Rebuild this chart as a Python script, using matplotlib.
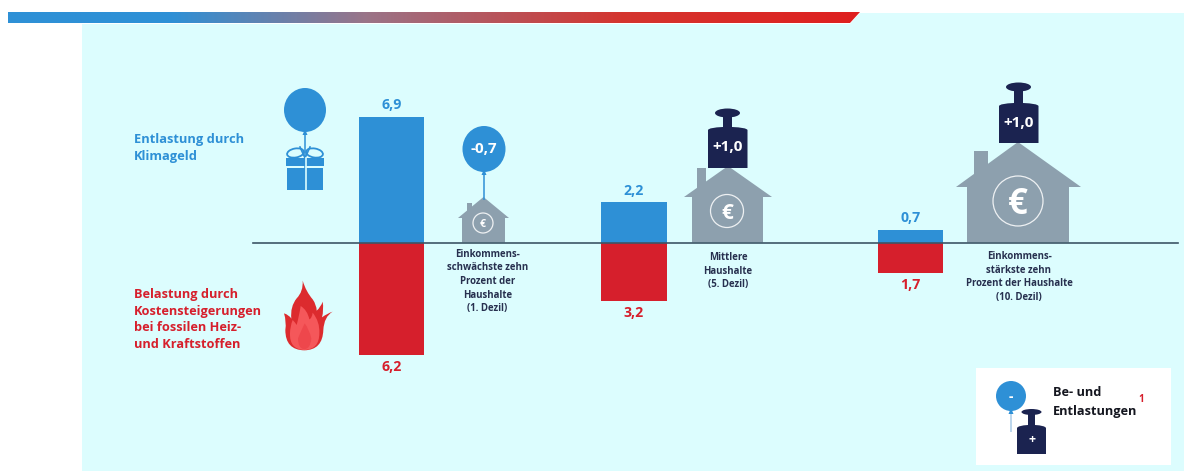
import matplotlib
matplotlib.use("Agg")
import matplotlib.pyplot as plt
import numpy as np
from matplotlib.colors import LinearSegmentedColormap
from matplotlib.patches import Circle, Ellipse, PathPatch, Polygon, Rectangle
from matplotlib.path import Path

# Werte in Euro pro Haushalt und Monat, nach Dezil
groups = ["1. Dezil", "5. Dezil", "10. Dezil"]
relief = [6.9, 2.2, 0.7]
burden = [6.2, 3.2, 1.7]
net_labels = ["-0,7", "+1,0", "+1,0"]
group_labels = [
    "Einkommens-\nschwächste zehn\nProzent der\nHaushalte\n(1. Dezil)",
    "Mittlere\nHaushalte\n(5. Dezil)",
    "Einkommens-\nstärkste zehn\nProzent der Haushalte\n(10. Dezil)",
]

BLUE = "#2E90D6"
RED = "#D61F2C"
NAVY = "#1B2350"
GREY = "#8DA0AE"
TEXT = "#27304F"
PANEL = "#DCFDFE"
FONT = "Open Sans"

W, H = 1184, 471
BASE = 242.5
UNIT = 18.2

plt.rcParams["font.family"] = FONT
fig = plt.figure(figsize=(W / 100, H / 100), dpi=100, facecolor="white")

# Zeichenfläche in Pixelkoordinaten für Hintergrund, Symbole und Beschriftung
px = fig.add_axes([0, 0, 1, 1])
px.set_xlim(0, W)
px.set_ylim(H, 0)
px.axis("off")

px.add_patch(Polygon([(82, 24), (850, 24), (860, 13), (W, 13), (W, H), (82, H)],
                     closed=True, fc=PANEL, ec="none", zorder=0))

# Farbverlauf im Kopfband mit schräg abgeschnittenem Ende
band_cmap = LinearSegmentedColormap.from_list(
    "band", [(0, BLUE), (0.19, BLUE), (0.42, "#9A7488"), (0.72, "#D4352F"), (1, "#DF1F1F")])
band = px.imshow(np.linspace(0, 1, 512)[None, :], cmap=band_cmap, aspect="auto",
                 extent=(8, 860, 23.5, 12), zorder=1)
band_clip = Polygon([(8, 12), (860, 12), (849.5, 23.5), (8, 23.5)], closed=True,
                    transform=px.transData, fc="none", ec="none")
px.add_patch(band_clip)
band.set_clip_path(band_clip)
px.set_xlim(0, W)
px.set_ylim(H, 0)


def balloon(cx, cy, rx, ry, string_end, color=BLUE, string_color=None):
    px.plot([cx, cx], [cy + ry, string_end], color=string_color or color, lw=1.1,
            solid_capstyle="butt", zorder=3)
    px.add_patch(Polygon([(cx - 2.5, cy + ry + 3), (cx + 2.5, cy + ry + 3), (cx, cy + ry - 3)],
                         closed=True, fc=color, ec="none", zorder=3))
    px.add_patch(Ellipse((cx, cy), 2 * rx, 2 * ry, fc=color, ec="none", zorder=4))


def weight(cx, left, right, top, bottom, neck_top, neck_half, cap_y, cap_rx, cap_ry):
    verts = [(left, bottom), (left, top + 3), (left + 1, top + 0.5), (cx - neck_half, top),
             (cx + neck_half, top), (right - 1, top + 0.5), (right, top + 3),
             (right, bottom), (left, bottom)]
    codes = [Path.MOVETO, Path.LINETO, Path.CURVE3, Path.CURVE3, Path.LINETO,
             Path.CURVE3, Path.CURVE3, Path.LINETO, Path.CLOSEPOLY]
    px.add_patch(PathPatch(Path(verts, codes), fc=NAVY, ec="none", zorder=4))
    px.add_patch(Rectangle((cx - neck_half, neck_top), 2 * neck_half, top - neck_top + 1,
                           fc=NAVY, ec="none", zorder=4))
    px.add_patch(Ellipse((cx, cap_y), 2 * cap_rx, 2 * cap_ry, fc=NAVY, ec="none", zorder=4))


def house(apex, eave_y, eave_x, wall_x, chimney_x, chimney_top, euro, euro_size):
    outline = [apex, (eave_x[1], eave_y), (wall_x[1], eave_y), (wall_x[1], BASE),
               (wall_x[0], BASE), (wall_x[0], eave_y), (eave_x[0], eave_y)]
    px.add_patch(Polygon(outline, closed=True, fc=GREY, ec="none", zorder=2))
    # Schornstein reicht bis unter die Dachlinie
    px.add_patch(Rectangle((chimney_x[0], chimney_top), chimney_x[1] - chimney_x[0],
                           eave_y - chimney_top - 4, fc=GREY, ec="none", zorder=2))
    cx, cy, r = euro
    px.add_patch(Circle((cx, cy), r, fc="none", ec="white", lw=0.9, alpha=0.85, zorder=3))
    px.text(cx, cy, "€", color="white", fontsize=euro_size, fontweight="bold",
            ha="center", va="center_baseline", zorder=4)


# Haushalte mit ihren Gewichten und dem Ballon
house((483.5, 197), 218, (458, 509), (462, 505), (467, 471.5), 203, (483, 223, 10), 7.5)
house((728, 166), 197, (684, 772), (692, 763), (697, 706), 168, (727, 211, 16.5), 15)
house((1018, 142), 187, (956, 1081), (967, 1069), (974, 988), 151, (1018, 201, 25), 25)

balloon(484, 149, 21.5, 23, 200)
weight(727.5, 708, 747.5, 127, 168, 116, 4.5, 113, 12.5, 4.5)
weight(1018.5, 999, 1038.5, 103, 143, 90, 4.5, 87, 12.5, 4.5)

for (x, y), label in zip([(484, 149), (727.5, 147), (1018.5, 123)], net_labels):
    px.text(x, y, label, color="white", fontsize=11, fontweight="bold",
            ha="center", va="center", zorder=5)

# Geschenk mit Ballon
balloon(305, 110, 21, 22, 168)
for sign in (-1, 1):
    px.add_patch(Ellipse((305 + sign * 9.5, 153), 17, 9, angle=sign * 10, fc="none",
                         ec=BLUE, lw=1.3, zorder=3))
    px.plot([305, 305 + sign * 5], [158, 147], color=BLUE, lw=1.2, zorder=3)
px.add_patch(Rectangle((286, 158), 38, 8, fc=BLUE, ec="none", zorder=3))
px.add_patch(Rectangle((287, 168), 36, 21.5, fc=BLUE, ec="none", zorder=3))
px.plot([305.5, 305.5], [158, 189.5], color=PANEL, lw=1.2, zorder=4)


def flame_points(points):
    return [(270 + x / 3, 270 + y / 3) for x, y in points]


# Flamme aus zwei geschwungenen Konturen
C3 = Path.CURVE3
outer = flame_points([
    (98, 32), (108, 65), (128, 88), (140, 105), (140, 122), (152, 112), (158, 95),
    (162, 120), (156, 142), (172, 130), (188, 125), (162, 140), (160, 180),
    (158, 240), (103, 241), (46, 240), (46, 180), (50, 155), (42, 130),
    (58, 135), (64, 146), (60, 110), (80, 85), (100, 65), (98, 32)])
outer_codes = [Path.MOVETO] + [C3] * (len(outer) - 1)
inner = flame_points([
    (92, 108), (112, 120), (118, 148), (126, 145), (128, 128), (150, 155), (148, 190),
    (148, 238), (103, 240), (58, 238), (60, 190), (60, 170), (68, 150), (76, 158),
    (80, 165), (88, 135), (92, 108)])
inner_codes = [Path.MOVETO] + [C3] * (len(inner) - 1)
core = flame_points([
    (104, 160), (118, 178), (124, 205), (122, 236), (103, 238), (84, 236), (84, 205),
    (92, 185), (104, 160)])
core_codes = [Path.MOVETO] + [C3] * (len(core) - 1)
px.add_patch(PathPatch(Path(outer, outer_codes), fc="#DC2B2E", ec="none", zorder=3))
px.add_patch(PathPatch(Path(inner, inner_codes), fc="#F5575A", ec="none", zorder=4))
px.add_patch(PathPatch(Path(core, core_codes), fc="#EE474C", ec="none", zorder=4))

# Linke Erläuterungen
px.text(134, 148, "Entlastung durch\nKlimageld", color=BLUE, fontsize=9.3,
        fontweight="bold", ha="left", va="center", linespacing=1.4)
px.text(134, 319.5, "Belastung durch\nKostensteigerungen\nbei fossilen Heiz-\nund Kraftstoffen",
        color=RED, fontsize=9.2, fontweight="bold", ha="left", va="center", linespacing=1.36)

# Beschriftung der Einkommensgruppen
for (x, y), label in zip([(487.5, 281.5), (728, 271), (1019, 277)], group_labels):
    px.text(x, y, label, color=TEXT, fontsize=6.9, fontweight="bold", ha="center",
            va="center", linespacing=1.33)

# Legende
px.add_patch(Rectangle((976, 368), 195, 97, fc="white", ec="none", zorder=2))
balloon(1011, 396, 15, 15, 432, string_color="#A9CBE8")
px.text(1011, 397, "-", color="white", fontsize=10, fontweight="bold", ha="center",
        va="center", zorder=5)
weight(1031.5, 1017, 1046, 425, 454, 413, 3.5, 412, 10, 3)
px.text(1032, 439, "+", color="white", fontsize=9, fontweight="bold", ha="center",
        va="center", zorder=5)
px.text(1053, 402, "Be- und\nEntlastungen", color="#14161F", fontsize=9.2, fontweight="bold",
        ha="left", va="center", linespacing=1.5, zorder=5)
px.text(1141.5, 399.5, "1", color=RED, fontsize=7, fontweight="bold", ha="center",
        va="center", zorder=5)

# Balken auf einer gemeinsamen Euro-Skala mit der Nulllinie als Bezug
bars = fig.add_axes([0, 0, 1, 1], facecolor="none")
bars.set_xlim(0, W)
bars.set_ylim(-(H - BASE) / UNIT, BASE / UNIT)
bars.axis("off")

centers = [391.5, 634, 910.5]
bar_width = 65.5
bars.bar(centers, relief, width=bar_width, color=BLUE, zorder=2)
bars.bar(centers, [-v for v in burden], width=bar_width, color=RED, zorder=2)
bars.plot([252.5, 1178], [0, 0], color="#3D5566", lw=1.2, zorder=3)


def decimal(value):
    return f"{value:.1f}".replace(".", ",")


for x, up, down in zip(centers, relief, burden):
    bars.annotate(decimal(up), (x, up), xytext=(0, 3.5), textcoords="offset points",
                  color=BLUE, fontsize=10.2, fontweight="bold", ha="center", va="bottom")
    bars.annotate(decimal(down), (x, -down), xytext=(0, -3.5), textcoords="offset points",
                  color=RED, fontsize=10.2, fontweight="bold", ha="center", va="top")

fig.savefig("out.png", dpi=100, facecolor="white")
